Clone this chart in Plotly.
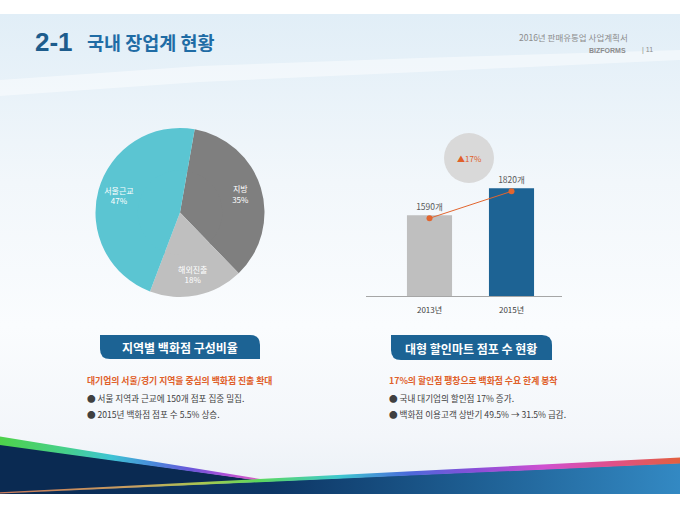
import plotly.graph_objects as go

# ---------------- data ----------------
pie_labels = ["지방", "해외진출", "서울근교"]
pie_values = [35, 18, 47]
pie_colors = ["#7F7F7F", "#BFBFBF", "#5BC5D2"]

bar_years = ["2013년", "2015년"]
bar_values = [1590, 1820]
bar_colors = ["#BFBFBF", "#1D6394"]
growth_label = "▲17%"

title_num = "2-1"
title_text = "국내 장업계 현황"
doc_title = "2016년 판매유통업 사업계획서"
brand = "BIZFORMS"
page_no = "| 11"

left_header = "지역별 백화점 구성비율"
left_sub = "대기업의 서울/경기 지역을 중심의 백화점 진출 확대"
left_bullets = ["● 서울 지역과 근교에 150개 점포 집중 밀집.", "● 2015년 백화점 점포 수 5.5% 상승."]
right_header = "대형 할인마트 점포 수 현황"
right_sub = "17%의 할인점 팽창으로 백화점 수요 한계 봉착"
right_bullets = ["● 국내 대기업의 할인점 17% 증가.", "● 백화점 이용고객 상반기 49.5% → 31.5% 급감."]

KR = "Noto Sans CJK KR"
W, H = 680, 510

fig = go.Figure()

# ---------------- decorative background (pixel axes x/y) ----------------
def poly(xs, ys, **kw):
    fig.add_trace(go.Scatter(x=xs + [xs[0]], y=ys + [ys[0]], fill="toself", mode="none",
                             hoverinfo="skip", showlegend=False, xaxis="x", yaxis="y", **kw))

poly([0, 680, 680, 0], [14, 14, 494, 494],
     fillgradient=dict(type="vertical", colorscale=[[0, "#EAF0F6"], [0.12, "#F3F6FA"], [0.35, "#FAFCFE"],
                                                  [0.65, "#F2F7FB"], [1, "#E1EEF7"]]))
# soft white swoosh in the header band
poly([0, 200, 420, 680, 680, 420, 200, 0], [80, 66, 58, 50, 60, 72, 82, 96], fillcolor="rgba(255,255,255,0.45)")
# left navy wedge
poly([0, 265, 0], [444, 481.3, 494], fillcolor="#0A2A52")
# left rainbow stripe
poly([0, 265, 265, 0], [436.5, 479.8, 481.6, 445],
     fillgradient=dict(type="horizontal", colorscale=[[0, "#4ED24A"], [0.25, "#46D08C"], [0.42, "#3EC4D4"],
                                                    [0.58, "#4A88DA"], [0.72, "#6A56DA"], [0.86, "#B250D6"],
                                                    [1, "#E060C0"]]))
# right blue band
poly([0, 680, 680, 0], [493.3, 463, 494, 494],
     fillgradient=dict(type="horizontal", colorscale=[[0, "#0A2A52"], [0.4, "#0D3665"], [0.7, "#1E5F93"],
                                                    [1, "#3389C3"]]))
# right rainbow stripe
poly([0, 680, 680, 0], [492.3, 457.5, 463.6, 493.6],
     fillgradient=dict(type="horizontal", colorscale=[[0, "#C8785A"], [0.2, "#C8A060"], [0.3, "#A8C850"],
                                                    [0.38, "#5CD85C"], [0.5, "#3EC8D0"], [0.6, "#4A6ADA"],
                                                    [0.7, "#8A4ED8"], [0.8, "#D050D0"], [0.9, "#E0508A"],
                                                    [1, "#E2603E"]]))

# ---------------- pie (outer ring with labels + inner fill) ----------------
cx, cy, r = 180, 212.5, 84.5
fig.add_trace(go.Pie(labels=pie_labels, values=pie_values, sort=False, direction="clockwise",
                     rotation=10, marker=dict(colors=pie_colors), textinfo="none",
                     hoverinfo="skip", showlegend=False,
                     domain=dict(x=[(cx - r * 0.53) / W, (cx + r * 0.53) / W],
                                 y=[1 - (cy + r * 0.53) / H, 1 - (cy - r * 0.53) / H])))
fig.add_trace(go.Pie(labels=pie_labels, values=pie_values, sort=False, direction="clockwise",
                     rotation=10, hole=0.5, marker=dict(colors=pie_colors),
                     texttemplate="%{label}<br>%{percent}", textposition="inside",
                     insidetextorientation="horizontal",
                     insidetextfont=dict(family=KR, size=8, color="white"),
                     hoverinfo="label+percent", showlegend=False,
                     domain=dict(x=[(cx - r) / W, (cx + r) / W], y=[1 - (cy + r) / H, 1 - (cy - r) / H])))

# ---------------- bar chart ----------------
fig.add_trace(go.Bar(x=bar_years, y=bar_values, marker=dict(color=bar_colors, line=dict(width=0)),
                     width=0.55, texttemplate="%{y}개", textposition="outside", cliponaxis=False,
                     textfont=dict(family=KR, size=8.5, color="#595959"),
                     showlegend=False, xaxis="x2", yaxis="y2"))
fig.add_trace(go.Scatter(x=bar_years, y=bar_values, mode="lines+markers",
                         line=dict(color="#E2662F", width=1), marker=dict(size=6, color="#E2662F"),
                         showlegend=False, xaxis="x2", yaxis="y3"))

px_per_unit = 0.117
y_lo = 900
y_hi = y_lo + 160 / px_per_unit
shift = 3 / px_per_unit

shapes = [
    dict(type="circle", xref="x", yref="y", x0=444, x1=494, y0=133, y1=183,
         fillcolor="#D9D9D9", line=dict(width=0), layer="above"),
    dict(type="path", xref="x", yref="y", fillcolor="#1C6394", line=dict(width=0),
         path="M 100 335 L 250 335 Q 260 335 260 345 L 260 359 L 110 359 Q 100 359 100 349 Z"),
    dict(type="path", xref="x", yref="y", fillcolor="#1C6394", line=dict(width=0),
         path="M 391 335 L 542 335 Q 552 335 552 345 L 552 360 L 401 360 Q 391 360 391 350 Z"),
]

def txt(x, y, s, size, color, xanchor="left", bold=False, family=KR):
    return dict(x=x, y=y, xref="x", yref="y", text=("<b>%s</b>" % s) if bold else s,
                showarrow=False, xanchor=xanchor, yanchor="middle",
                font=dict(family=family, size=size, color=color))

annotations = [
    txt(33, 42, title_num, 26, "#1D5C8C", bold=True, family="Liberation Sans"),
    txt(85, 42, title_text, 18.5, "#1F6CA5", bold=True),
    txt(630, 37, doc_title, 8.5, "#8C8C8C", xanchor="right"),
    txt(628, 50, brand, 7, "#8C8C8C", xanchor="right", bold=True, family="Liberation Sans"),
    txt(640, 50, page_no, 7, "#8C8C8C", bold=False, family="Liberation Sans"),
    txt(469, 158, growth_label, 8, "#E0602A", xanchor="center"),
    txt(180, 347, left_header, 12, "white", xanchor="center", bold=True),
    txt(471, 348, right_header, 12, "white", xanchor="center", bold=True),
    txt(85, 380, left_sub, 8.8, "#E0602A", bold=True),
    txt(85, 398, left_bullets[0], 8.6, "#404040"),
    txt(85, 414, left_bullets[1], 8.6, "#404040"),
    txt(387, 380, right_sub, 8.8, "#E0602A", bold=True),
    txt(387, 398, right_bullets[0], 8.6, "#404040"),
    txt(387, 414, right_bullets[1], 8.6, "#404040"),
]

x2_dom = [366 / W, 562 / W]
y2_dom = [1 - 296 / H, 1 - 136 / H]
x2_range = [-63.5 / 82, 1 + 50.5 / 82]

fig.update_layout(
    width=W, height=H, margin=dict(l=0, r=0, t=0, b=0),
    paper_bgcolor="white", plot_bgcolor="rgba(0,0,0,0)",
    xaxis=dict(domain=[0, 1], range=[0, W], visible=False, fixedrange=True),
    yaxis=dict(domain=[0, 1], range=[H, 0], visible=False, fixedrange=True),
    xaxis2=dict(domain=x2_dom, anchor="y2", range=x2_range, type="category", showline=True,
                linecolor="#A6A6A6", linewidth=1, showgrid=False, ticks="", ticklabelstandoff=6,
                tickfont=dict(family=KR, size=8, color="#404040"), fixedrange=True),
    yaxis2=dict(domain=y2_dom, anchor="x2", range=[y_lo, y_hi], visible=False, fixedrange=True),
    yaxis3=dict(domain=y2_dom, anchor="x2", overlaying="y2", range=[y_lo + shift, y_hi + shift],
                visible=False, fixedrange=True),
    shapes=shapes, annotations=annotations,
    bargap=0.45, showlegend=False,
)

fig.write_html("out.html", config={"displayModeBar": False},
               post_script="document.body.style.margin='0px';")
